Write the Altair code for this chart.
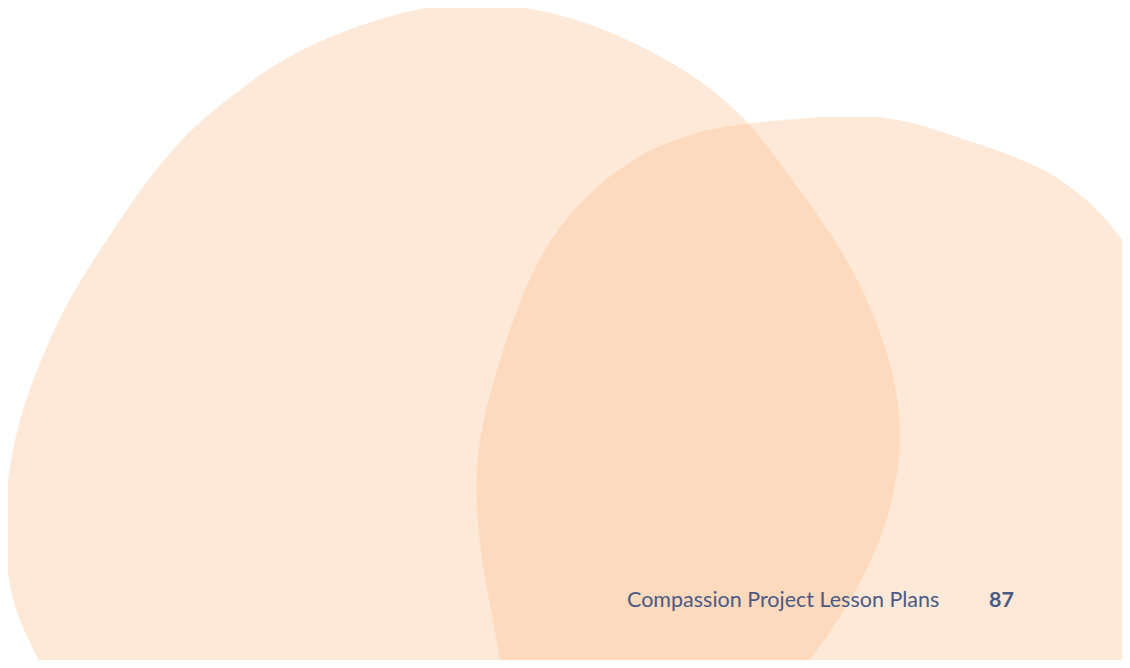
import altair as alt
import pandas as pd

# Left blob: for each page row y, the left and right edge x (page pixels)
left_y = [4, 10, 20, 40, 67, 90, 120, 160, 200, 250, 300, 350, 400, 450, 500, 550, 600, 640, 668, 700]
left_xl = [450, 413, 375, 320, 270, 240, 200, 163, 133, 100, 68, 45, 25, 12, 5, 5, 11, 28, 43, 60]
left_xr = [500, 540, 580, 630, 680, 713, 747, 778, 807, 842, 868, 887, 899, 901, 893, 877, 851, 825, 803, 780]

# Right blob
right_y = [117, 121, 125, 130, 140, 150, 165, 180, 210, 250, 300, 350, 400, 450, 500, 550, 600, 668, 700]
right_xl = [820, 770, 735, 705, 675, 650, 625, 605, 572, 543, 520, 503, 488, 477, 476, 480, 489, 502, 508]
right_xr = [880, 905, 920, 937, 965, 997, 1035, 1062, 1100, 1130, 1165, 1200, 1220, 1230, 1240, 1240, 1240, 1240, 1240]

footer_text = ["Compassion Project Lesson Plans", "87"]
footer_x = [627, 989]
footer_y = [607, 607]

left_df = pd.DataFrame({"y": left_y, "xl": left_xl, "xr": left_xr})
right_df = pd.DataFrame({"y": right_y, "xl": right_xl, "xr": right_xr})
text_df = pd.DataFrame({"label": footer_text, "x": footer_x, "y": footer_y})

X = alt.Scale(domain=[8, 1122], nice=False, zero=False)
Y = alt.Scale(domain=[660, 8], nice=False, zero=False)


def blob(df):
    return alt.Chart(df).mark_area(
        orient="horizontal", interpolate="basis", color="#FCB67D",
        opacity=0.3, clip=True
    ).encode(
        y=alt.Y("y:Q", scale=Y, axis=None),
        x=alt.X("xl:Q", scale=X, axis=None),
        x2="xr:Q",
    )


label_regular = alt.Chart(text_df.iloc[[0]]).mark_text(
    align="left", baseline="alphabetic", font="Lato", fontSize=21.5, color="#4B5A84"
).encode(
    x=alt.X("x:Q", scale=X, axis=None),
    y=alt.Y("y:Q", scale=Y, axis=None),
    text="label:N",
)

label_bold = alt.Chart(text_df.iloc[[1]]).mark_text(
    align="left", baseline="alphabetic", font="Lato", fontSize=21.5, fontWeight="bold", color="#4B5A84"
).encode(
    x=alt.X("x:Q", scale=X, axis=None),
    y=alt.Y("y:Q", scale=Y, axis=None),
    text="label:N",
)

chart = alt.layer(blob(left_df), blob(right_df), label_regular, label_bold).properties(
    width=1114, height=652, padding=0, background="white"
).configure_view(stroke=None)

chart.save("out.html", embed_options={"renderer": "svg", "actions": False})
